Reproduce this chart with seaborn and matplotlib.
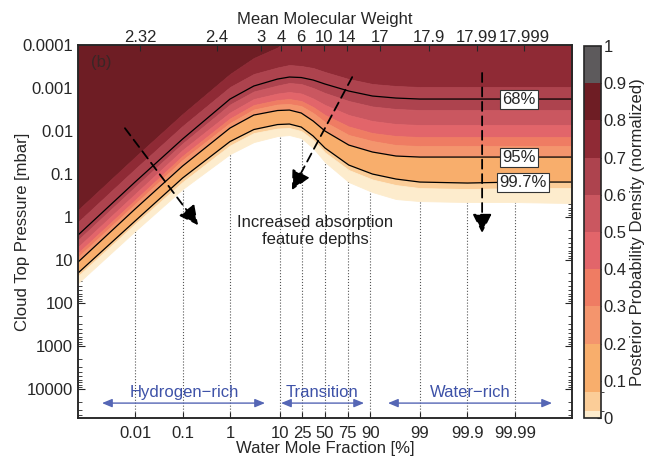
import numpy as np
import matplotlib
matplotlib.use('Agg')
import matplotlib.pyplot as plt
from matplotlib.colors import ListedColormap, BoundaryNorm
from matplotlib.cm import ScalarMappable
from matplotlib.ticker import NullLocator, NullFormatter, LogLocator
import seaborn as sns

water_pct = [0.00063, 0.01, 0.1, 0.99, 3.07, 9.09, 15.1, 24.0, 36.0, 50.0,
             76.0, 90.9, 96.9, 99.0, 99.9, 99.99, 99.99937]

# log10 cloud top pressure [mbar] of each density level boundary
logp_080 = [-0.163, -1.395, -2.395, -3.326, -3.698, -3.942, -4.163, -4.5, -4.5,
            -4.5, -4.5, -4.5, -4.5, -4.5, -4.5, -4.5, -4.5]
logp_070 = [0.116, -1.116, -2.116, -3.023, -3.326, -3.477, -3.535, -3.512, -3.465,
            -3.372, -3.209, -3.093, -3.047, -3.023, -3.023, -3.023, -3.023]
logp_060 = [0.535, -0.698, -1.709, -2.616, -2.919, -3.058, -3.116, -3.093, -3.0,
            -2.884, -2.698, -2.570, -2.512, -2.488, -2.488, -2.488, -2.488]
logp_050 = [0.698, -0.535, -1.558, -2.430, -2.744, -2.872, -2.907, -2.872, -2.756,
            -2.605, -2.372, -2.233, -2.163, -2.140, -2.140, -2.140, -2.140]
logp_040 = [0.837, -0.395, -1.419, -2.291, -2.605, -2.721, -2.744, -2.698, -2.558,
            -2.372, -2.105, -1.953, -1.884, -1.860, -1.860, -1.860, -1.860]
logp_030 = [0.930, -0.302, -1.326, -2.186, -2.5, -2.616, -2.628, -2.581, -2.419,
            -2.209, -1.907, -1.767, -1.674, -1.651, -1.651, -1.651, -1.651]
logp_002 = [1.372, 0.163, -0.814, -1.663, -1.953, -2.058, -2.070, -2.0, -1.791,
            -1.5, -1.093, -0.872, -0.744, -0.674, -0.651, -0.674, -0.674]
logp_000 = [1.535, 0.326, -0.651, -1.465, -1.744, -1.884, -1.907, -1.837, -1.605,
            -1.279, -0.814, -0.581, -0.419, -0.372, -0.349, -0.349, -0.326]

# credible region contours
logp_68 = [0.419, -0.814, -1.814, -2.744, -3.047, -3.209, -3.256, -3.244, -3.186,
           -3.093, -2.930, -2.814, -2.767, -2.744, -2.744, -2.744, -2.744]
logp_95 = [1.047, -0.186, -1.186, -2.070, -2.372, -2.477, -2.488, -2.419, -2.233,
           -2.0, -1.674, -1.512, -1.419, -1.395, -1.395, -1.395, -1.395]
logp_997 = [1.302, 0.093, -0.907, -1.756, -2.035, -2.151, -2.163, -2.093, -1.884,
            -1.605, -1.209, -1.0, -0.884, -0.814, -0.791, -0.814, -0.814]
contour_names = ['68%', '95%', '99.7%']

levels = [0, 0.02, 0.07, 0.2, 0.3, 0.4, 0.5, 0.6, 0.7, 0.8, 0.9, 1.0]
level_colors = ['#fdeccd', '#fbcd98', '#f8ae6c', '#f4956d', '#ef7c63', '#e2656a',
                '#ca5760', '#ad434e', '#8f2a35', '#6e1d24', '#5d5a5c']
cbar_ticks = [0, 0.1, 0.2, 0.3, 0.4, 0.5, 0.6, 0.7, 0.8, 0.9, 1.0]
cbar_labels = ['0', '0.1', '0.2', '0.3', '0.4', '0.5', '0.6', '0.7', '0.8', '0.9', '1']

x_ticks_pct = [0.01, 0.1, 1, 10, 25, 50, 75, 90, 99, 99.9, 99.99]
x_tick_labels = ['0.01', '0.1', '1', '10', '25', '50', '75', '90', '99', '99.9', '99.99']
mu_ticks = [2.32, 2.4, 3, 4, 6, 10, 14, 17, 17.9, 17.99, 17.999]
mu_labels = ['2.32', '2.4', '3', '4', '6', '10', '14', '17', '17.9', '17.99', '17.999']
mu_h2, mu_h2o = 2.318, 18.0
y_ticks = [1e-4, 1e-3, 1e-2, 1e-1, 1, 10, 100, 1000, 10000]
y_tick_labels = ['0.0001', '0.001', '0.01', '0.1', '1', '10', '100', '1000', '10000']

sns.set_style('ticks')
plt.rcParams['font.family'] = ['Liberation Sans', 'DejaVu Sans']
plt.rcParams['font.size'] = 12
plt.rcParams['axes.linewidth'] = 1.1

fig = plt.figure(figsize=(6.65, 4.58), dpi=100)
ax = fig.add_axes([0.1173, 0.0873, 0.7429, 0.8144])

frac = np.array(water_pct) / 100
bounds = [logp_080, logp_070, logp_060, logp_050, logp_040, logp_030,
          logp_95, logp_997, logp_002, logp_000]

# darkest band sits above the 0.8 boundary
ax.fill_between(frac, 1e-6, 10 ** np.array(logp_080), color=level_colors[9],
                lw=0.6, edgecolor=level_colors[9])
for i in range(len(bounds) - 1):
    c = level_colors[8 - i]
    ax.fill_between(frac, 10 ** np.array(bounds[i]), 10 ** np.array(bounds[i + 1]),
                    color=c, lw=0.6, edgecolor=c)

for logp in (logp_68, logp_95, logp_997):
    sns.lineplot(x=frac, y=10 ** np.array(logp), ax=ax, color='black', lw=0.9,
                 errorbar=None)

ax.set_xscale('logit')
ax.set_xlim(6.3e-6, 1 - 6.3e-6)
ax.set_yscale('log')
ax.set_ylim(4.7e4, 1e-4)

ax.set_xticks(np.array(x_ticks_pct) / 100, x_tick_labels)
ax.xaxis.set_minor_locator(NullLocator())
ax.set_yticks(y_ticks, y_tick_labels)
ax.yaxis.set_minor_locator(LogLocator(base=10, subs=range(2, 10), numticks=100))
ax.yaxis.set_minor_formatter(NullFormatter())
ax.tick_params(axis='both', which='both', direction='in')
ax.tick_params(axis='y', which='both', right=True)
ax.tick_params(axis='y', which='major', length=5)
ax.tick_params(axis='y', which='minor', length=3)
ax.tick_params(axis='x', length=4, pad=6)
ax.xaxis.grid(True, linestyle=':', color='#555555', linewidth=0.8)
ax.set_xlabel('Water Mole Fraction [%]', labelpad=0)
ax.set_ylabel('Cloud Top Pressure [mbar]')
ax.yaxis.set_label_coords(-0.097, 0.5)

ax_top = ax.twiny()
ax_top.set_xscale('logit')
ax_top.set_xlim(ax.get_xlim())
ax_top.set_xticks((np.array(mu_ticks) - mu_h2) / (mu_h2o - mu_h2), mu_labels)
ax_top.xaxis.set_minor_locator(NullLocator())
ax_top.tick_params(direction='in', length=4, pad=0)
ax_top.set_xlabel('Mean Molecular Weight', labelpad=4)

# contour labels
for name, logp, xpos in zip(contour_names, (logp_68, logp_95, logp_997),
                            (0.893, 0.893, 0.901)):
    ax.text(xpos, 10 ** logp[-1], name, transform=ax.get_yaxis_transform(),
            ha='center', va='center', fontsize=12, zorder=6,
            bbox=dict(boxstyle='square,pad=0.12', fc='white', ec='#333333', lw=0.8))

ax.text(0.0466, 0.954, '(b)', transform=ax.transAxes, ha='center', va='center',
        fontsize=12, color='#3a2626')

# dashed trend arrows
dash_arrows = [((0.095, 0.777), (0.243, 0.517)),
               ((0.555, 0.914), (0.433, 0.611)),
               ((0.818, 0.925), (0.818, 0.496))]
for start, end in dash_arrows:
    ax.annotate('', xy=end, xytext=start, xycoords='axes fraction',
                arrowprops=dict(arrowstyle='-|>,head_length=0.9,head_width=0.45',
                                color='black', lw=1.3, linestyle=(0, (5, 3)),
                                shrinkA=0, shrinkB=0, mutation_scale=13))
ax.text(0.48, 0.501, 'Increased absorption\nfeature depths', transform=ax.transAxes,
        ha='center', va='center', fontsize=12, color='#222222')

# regime annotations
regimes = [('Hydrogen\u2212rich', 0.0486, 0.3785, 0.2146),
           ('Transition', 0.411, 0.579, 0.494),
           ('Water\u2212rich', 0.6275, 0.9595, 0.7935)]
for name, x0, x1, xc in regimes:
    ax.annotate('', xy=(x1, 0.040), xytext=(x0, 0.040), xycoords='axes fraction',
                arrowprops=dict(arrowstyle='<|-|>,head_length=0.6,head_width=0.25',
                                color='#5566b5', lw=1.0, shrinkA=0, shrinkB=0,
                                mutation_scale=10))
    ax.text(xc, 0.0697, name, transform=ax.transAxes, ha='center', va='center',
            fontsize=12, color='#3e52a8')

# colorbar
cax = fig.add_axes([584 / 665, 0.0873, 17 / 665, 0.8122])
cmap = ListedColormap(level_colors)
norm = BoundaryNorm(levels, cmap.N)
cb = fig.colorbar(ScalarMappable(norm=norm, cmap=cmap), cax=cax, ticks=cbar_ticks,
                  spacing='proportional')
cb.set_ticklabels(cbar_labels)
cb.outline.set_linewidth(1.2)
cax.tick_params(direction='in', length=3, pad=2)
cb.set_label('Posterior Probability Density (normalized)', fontsize=12, labelpad=2)

fig.savefig('out.png', dpi=100)
